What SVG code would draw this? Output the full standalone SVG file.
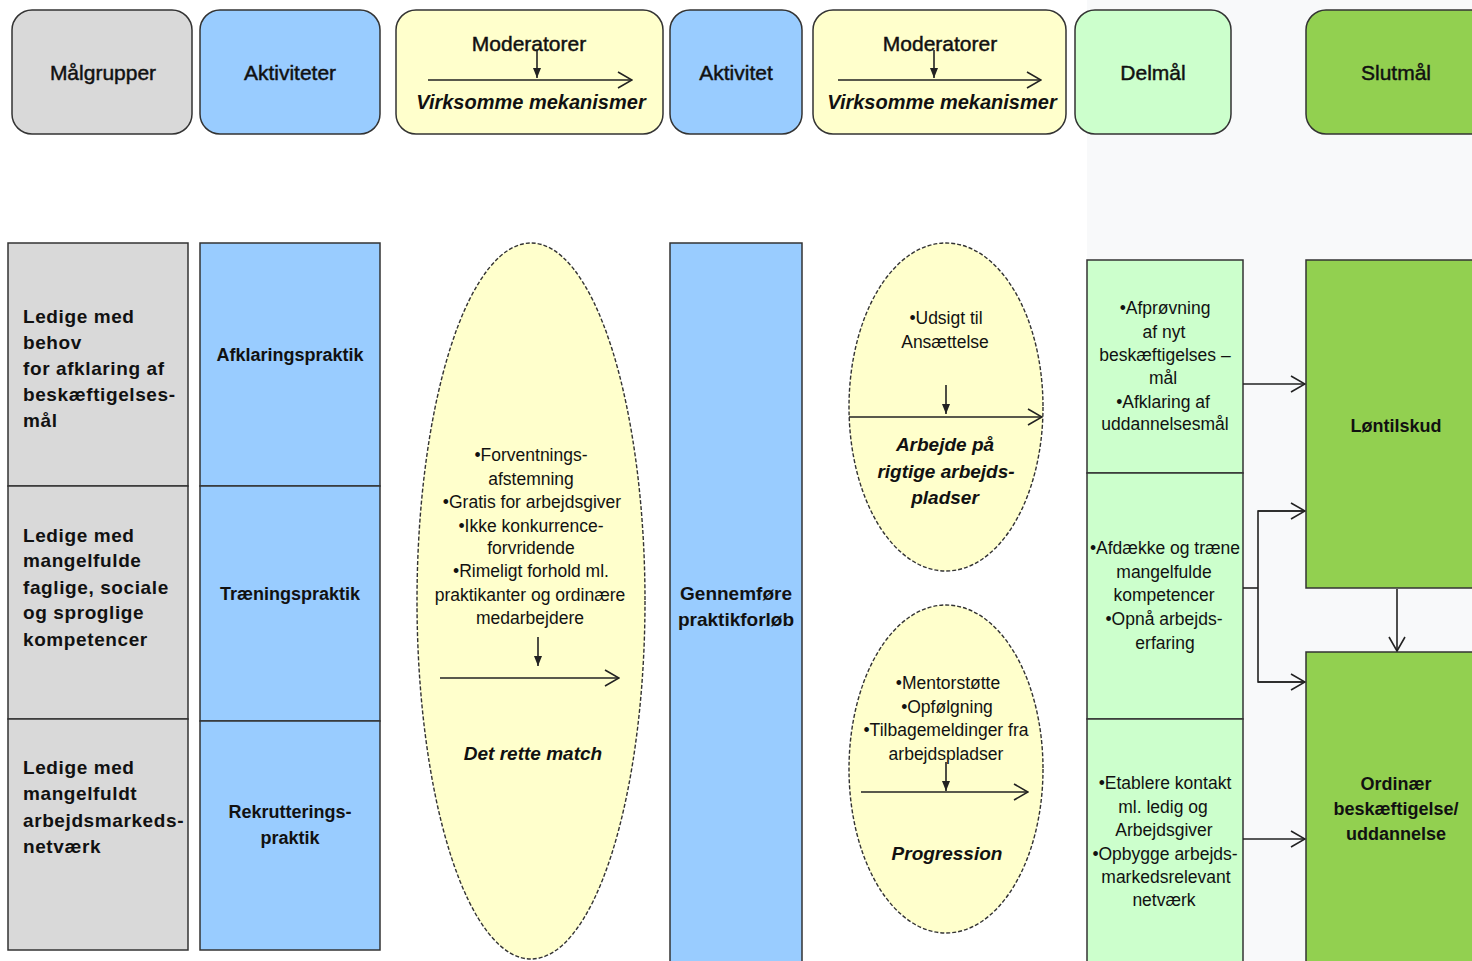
<svg xmlns="http://www.w3.org/2000/svg" width="1472" height="961" viewBox="0 0 1472 961">
<defs>
<marker id="open" viewBox="0 0 16 18" refX="15" refY="9" markerWidth="16" markerHeight="18" markerUnits="userSpaceOnUse" orient="auto">
<path d="M1,1 L15,9 L1,17" fill="none" stroke="#222" stroke-width="1.6"/>
</marker>
<marker id="solid" viewBox="0 0 10 8" refX="10" refY="4" markerWidth="10" markerHeight="8" markerUnits="userSpaceOnUse" orient="auto">
<path d="M0,0 L10,4 L0,8 Z" fill="#222"/>
</marker>
<style>
.t{font-family:"Liberation Sans",Arial,sans-serif;fill:#111}
.hd{font-size:21px;text-anchor:middle;stroke:#111;stroke-width:0.45}
.hi{font-size:20px;font-style:italic;font-weight:bold;text-anchor:middle}
.lb{font-size:19px;font-weight:bold;letter-spacing:0.6px}
.cb{font-size:18px;font-weight:bold;text-anchor:middle}
.el{font-size:17.5px;text-anchor:middle}
.bi{font-size:19px;font-weight:bold;font-style:italic;text-anchor:middle}
.hb{stroke:#333;stroke-width:1.5}
.bx{stroke:#333;stroke-width:1.5}
.ell{fill:#ffffcc;stroke:#333;stroke-width:1.4;stroke-dasharray:4 2}
.ln{stroke:#222;stroke-width:1.6;fill:none}
.grey{fill:#d9d9d9}.blue{fill:#99ccff}.yel{fill:#ffffcc}.lg{fill:#ccffcc}.dg{fill:#92d050}
</style>
</defs>
<rect x="0" y="0" width="1472" height="961" fill="#ffffff"/>
<rect x="1087" y="0" width="385" height="961" fill="#f8f9fa"/>

<g id="h-malgrupper">
<rect class="hb grey" x="12" y="10" width="180" height="124" rx="20"/>
<text class="t hd" x="103" y="80">Målgrupper</text>
</g>
<g id="h-aktiviteter">
<rect class="hb blue" x="200" y="10" width="180" height="124" rx="20"/>
<text class="t hd" x="290" y="80">Aktiviteter</text>
</g>
<g id="h-moderatorer1">
<rect class="hb yel" x="396" y="10" width="267" height="124" rx="20"/>
<text class="t hd" x="529" y="51">Moderatorer</text>
<text class="t hi" x="531" y="109">Virksomme mekanismer</text>
</g>
<g id="h-aktivitet">
<rect class="hb blue" x="670" y="10" width="132" height="124" rx="20"/>
<text class="t hd" x="736" y="80">Aktivitet</text>
</g>
<g id="h-moderatorer2">
<rect class="hb yel" x="813" y="10" width="253" height="124" rx="20"/>
<text class="t hd" x="940" y="51">Moderatorer</text>
<text class="t hi" x="942" y="109">Virksomme mekanismer</text>
</g>
<g id="h-delmal">
<rect class="hb lg" x="1075" y="10" width="156" height="124" rx="20"/>
<text class="t hd" x="1153" y="80">Delmål</text>
</g>
<g id="h-slutmal">
<rect class="hb dg" x="1306" y="10" width="190" height="124" rx="20"/>
<text class="t hd" x="1396" y="80">Slutmål</text>
</g>

<g id="mg1">
<rect class="bx grey" x="8" y="243" width="180" height="243"/>
<text class="t lb" x="23" y="323">Ledige med</text>
<text class="t lb" x="23" y="349">behov</text>
<text class="t lb" x="23" y="375">for afklaring af</text>
<text class="t lb" x="23" y="401">beskæftigelses-</text>
<text class="t lb" x="23" y="427">mål</text>
</g>
<g id="mg2">
<rect class="bx grey" x="8" y="486" width="180" height="233"/>
<text class="t lb" x="23" y="542">Ledige med</text>
<text class="t lb" x="23" y="567">mangelfulde</text>
<text class="t lb" x="23" y="594">faglige, sociale</text>
<text class="t lb" x="23" y="619">og sproglige</text>
<text class="t lb" x="23" y="646">kompetencer</text>
</g>
<g id="mg3">
<rect class="bx grey" x="8" y="719" width="180" height="231"/>
<text class="t lb" x="23" y="774">Ledige med</text>
<text class="t lb" x="23" y="800">mangelfuldt</text>
<text class="t lb" x="23" y="827">arbejdsmarkeds-</text>
<text class="t lb" x="23" y="853">netværk</text>
</g>

<g id="ak1">
<rect class="bx blue" x="200" y="243" width="180" height="243"/>
<text class="t cb" x="290" y="361">Afklaringspraktik</text>
</g>
<g id="ak2">
<rect class="bx blue" x="200" y="486" width="180" height="235"/>
<text class="t cb" x="290" y="600">Træningspraktik</text>
</g>
<g id="ak3">
<rect class="bx blue" x="200" y="721" width="180" height="229"/>
<text class="t cb" x="290" y="818">Rekrutterings-</text>
<text class="t cb" x="290" y="844">praktik</text>
</g>

<g id="mek1">
<ellipse class="ell" cx="531" cy="601" rx="114" ry="358"/>
<text class="t el" x="531" y="461">•Forventnings-</text>
<text class="t el" x="531" y="485">afstemning</text>
<text class="t el" x="532" y="508">•Gratis for arbejdsgiver</text>
<text class="t el" x="531" y="532">•Ikke konkurrence-</text>
<text class="t el" x="531" y="554">forvridende</text>
<text class="t el" x="531" y="577">•Rimeligt forhold ml.</text>
<text class="t el" x="530" y="601">praktikanter og ordinære</text>
<text class="t el" x="530" y="624">medarbejdere</text>
<text class="t bi" x="533" y="760">Det rette match</text>
</g>

<g id="gennemfore">
<rect class="bx blue" x="670" y="243" width="132" height="730"/>
<text class="t" x="736" y="600" style="font-size:19px;font-weight:bold;text-anchor:middle">Gennemføre</text>
<text class="t" x="736" y="626" style="font-size:19px;font-weight:bold;text-anchor:middle">praktikforløb</text>
</g>

<g id="mek2">
<ellipse class="ell" cx="946" cy="407" rx="97" ry="164"/>
<text class="t el" x="946" y="324">•Udsigt til</text>
<text class="t el" x="945" y="348">Ansættelse</text>
<text class="t bi" x="945" y="451">Arbejde på</text>
<text class="t bi" x="946" y="478">rigtige arbejds-</text>
<text class="t bi" x="945" y="504">pladser</text>
</g>

<g id="mek3">
<ellipse class="ell" cx="946" cy="769" rx="97" ry="164"/>
<text class="t el" x="948" y="689">•Mentorstøtte</text>
<text class="t el" x="947" y="713">•Opfølgning</text>
<text class="t el" x="946" y="736">•Tilbagemeldinger fra</text>
<text class="t el" x="946" y="760">arbejdspladser</text>
<text class="t bi" x="947" y="860">Progression</text>
</g>

<g id="dm1">
<rect class="bx lg" x="1087" y="260" width="156" height="213"/>
<text class="t el" x="1165" y="314">•Afprøvning</text>
<text class="t el" x="1164" y="338">af nyt</text>
<text class="t el" x="1165" y="361">beskæftigelses –</text>
<text class="t el" x="1163" y="384">mål</text>
<text class="t el" x="1163" y="408">•Afklaring af</text>
<text class="t el" x="1165" y="430">uddannelsesmål</text>
</g>
<g id="dm2">
<rect class="bx lg" x="1087" y="473" width="156" height="246"/>
<text class="t el" x="1165" y="554">•Afdække og træne</text>
<text class="t el" x="1164" y="578">mangelfulde</text>
<text class="t el" x="1164" y="601">kompetencer</text>
<text class="t el" x="1164" y="625">•Opnå arbejds-</text>
<text class="t el" x="1165" y="649">erfaring</text>
</g>
<g id="dm3">
<rect class="bx lg" x="1087" y="719" width="156" height="254"/>
<text class="t el" x="1165" y="789">•Etablere kontakt</text>
<text class="t el" x="1163" y="813">ml. ledig og</text>
<text class="t el" x="1164" y="836">Arbejdsgiver</text>
<text class="t el" x="1165" y="860">•Opbygge arbejds-</text>
<text class="t el" x="1166" y="883">markedsrelevant</text>
<text class="t el" x="1164" y="906">netværk</text>
</g>

<g id="lontilskud">
<rect class="bx dg" x="1306" y="260" width="190" height="328"/>
<text class="t cb" x="1396" y="432">Løntilskud</text>
</g>
<g id="ordinaer">
<rect class="bx dg" x="1306" y="652" width="190" height="330"/>
<text class="t cb" x="1396" y="790">Ordinær</text>
<text class="t cb" x="1396" y="815">beskæftigelse/</text>
<text class="t cb" x="1396" y="840">uddannelse</text>
</g>

<g id="connectors">
<line class="ln" x1="428" y1="80" x2="632" y2="80" marker-end="url(#open)"/>
<line class="ln" x1="537" y1="50" x2="537" y2="78" marker-end="url(#solid)"/>
<line class="ln" x1="838" y1="80" x2="1041" y2="80" marker-end="url(#open)"/>
<line class="ln" x1="934" y1="50" x2="934" y2="78" marker-end="url(#solid)"/>
<line class="ln" x1="538" y1="637" x2="538" y2="666" marker-end="url(#solid)"/>
<line class="ln" x1="440" y1="678" x2="619" y2="678" marker-end="url(#open)"/>
<line class="ln" x1="946" y1="385" x2="946" y2="414" marker-end="url(#solid)"/>
<line class="ln" x1="849" y1="417" x2="1042" y2="417" marker-end="url(#open)"/>
<line class="ln" x1="946" y1="762" x2="946" y2="791" marker-end="url(#solid)"/>
<line class="ln" x1="861" y1="792" x2="1028" y2="792" marker-end="url(#open)"/>
<line class="ln" x1="1243" y1="384" x2="1305" y2="384" marker-end="url(#open)"/>
<polyline class="ln" points="1243,588 1258,588"/>
<polyline class="ln" points="1305,511 1258,511 1258,682 1305,682"/>
<line class="ln" x1="1258" y1="511" x2="1305" y2="511" marker-end="url(#open)"/>
<line class="ln" x1="1258" y1="682" x2="1305" y2="682" marker-end="url(#open)"/>
<line class="ln" x1="1243" y1="839" x2="1305" y2="839" marker-end="url(#open)"/>
<line class="ln" x1="1397" y1="589" x2="1397" y2="651" marker-end="url(#open)"/>
</g>
</svg>
